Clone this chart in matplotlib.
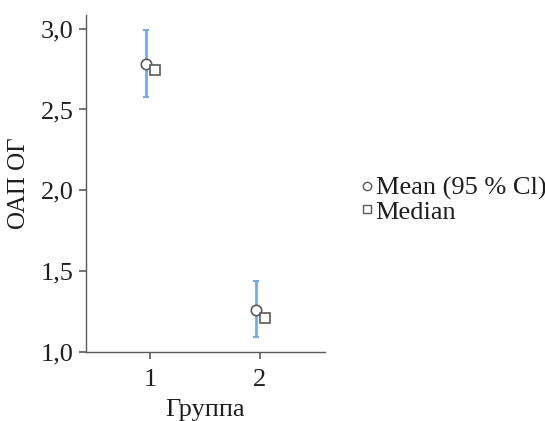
import matplotlib.pyplot as plt
from matplotlib.lines import Line2D
from matplotlib.ticker import FuncFormatter

plt.rcParams['font.family'] = ['Liberation Serif', 'DejaVu Serif']

groups = [1, 2]
mean_vals = [2.78, 1.255]
ci_low = [2.575, 1.09]
ci_high = [2.99, 1.435]
median_vals = [2.745, 1.205]
y_ticks = [1.0, 1.5, 2.0, 2.5, 3.0]

fig = plt.figure(figsize=(5.45, 4.21), dpi=100)
ax = fig.add_axes([0.158, 0.163, 0.438, 0.802])

grey = '#5a5a5a'
blue = '#74a9ee'
txt = '#1e1e1e'

x_mean = [g - 0.04 for g in groups]
x_med = [g + 0.05 for g in groups]
err = [[m - lo for m, lo in zip(mean_vals, ci_low)],
       [hi - m for m, hi in zip(mean_vals, ci_high)]]

ax.errorbar(x_mean, mean_vals, yerr=err, fmt='none', ecolor=blue,
            elinewidth=2, capsize=2.5, capthick=1.5, zorder=2)
ax.plot(x_mean, mean_vals, 'o', mfc='white', mec=grey, mew=1.2, ms=7.5,
        linestyle='none', zorder=3)
ax.plot(x_med, median_vals, 's', mfc='white', mec=grey, mew=1.2, ms=7,
        linestyle='none', zorder=3)

ax.set_xlim(0.42, 2.59)
ax.set_ylim(0.995, 3.087)
ax.set_xticks(groups)
ax.set_yticks(y_ticks)
ax.yaxis.set_major_formatter(FuncFormatter(lambda v, p: f'{v:.1f}'.replace('.', ',')))

for s in ['top', 'right']:
    ax.spines[s].set_visible(False)
for s in ['left', 'bottom']:
    ax.spines[s].set_color(grey)
    ax.spines[s].set_linewidth(1.0)
ax.tick_params(colors=grey, labelcolor=txt, labelsize=19, length=5, width=1.2)
ax.tick_params(axis='x', pad=7)
ax.tick_params(axis='y', pad=4)

ax.set_xlabel('Группа', fontsize=19, color=txt, labelpad=6)
ax.set_ylabel('ОАП ОГ', fontsize=18, color=txt, labelpad=8)

handles = [
    Line2D([], [], marker='o', mfc='white', mec=grey, mew=1.0, ms=6, linestyle='none'),
    Line2D([], [], marker='s', mfc='white', mec=grey, mew=1.0, ms=6, linestyle='none'),
]
fig.legend(handles, ['Mean (95 % Cl)', 'Median'], loc='center left',
           bbox_to_anchor=(0.665, 0.525), frameon=False, fontsize=19,
           handlelength=0.35, handletextpad=0.15, labelspacing=0.0,
           borderpad=0, borderaxespad=0, labelcolor=txt)

fig.savefig('out.png', dpi=100, facecolor='white')
